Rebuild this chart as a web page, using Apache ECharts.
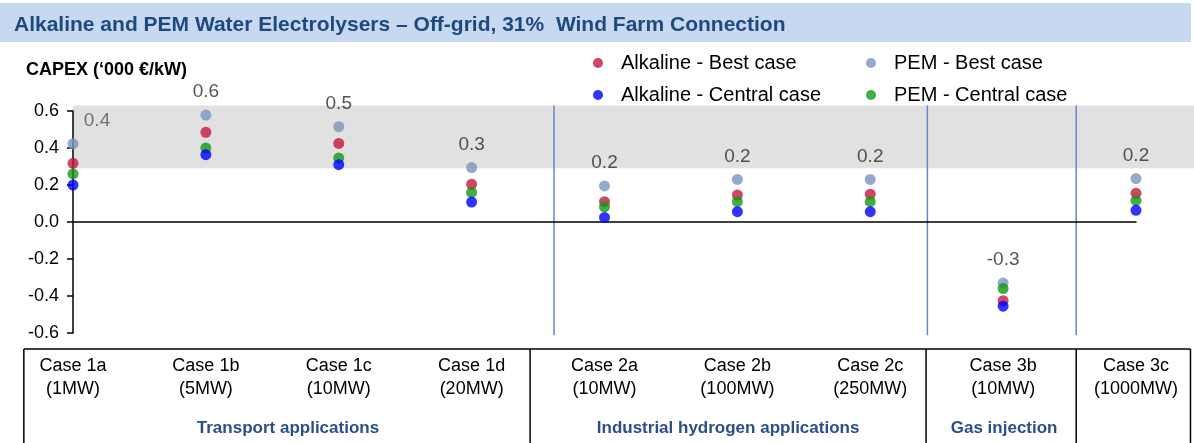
<!DOCTYPE html>
<html>
<head>
<meta charset="utf-8">
<script src="https://cdn.jsdelivr.net/npm/echarts@6/dist/echarts.min.js"></script>
<style>
  html, body { margin: 0; padding: 0; background: #fff; }
  #main { width: 1194px; height: 443px; }
</style>
</head>
<body>
<div id="main"></div>
<script>
// categories and sizes
const caseNames = ['Case 1a', 'Case 1b', 'Case 1c', 'Case 1d', 'Case 2a', 'Case 2b', 'Case 2c', 'Case 3b', 'Case 3c']
const caseSizes = ['(1MW)', '(5MW)', '(10MW)', '(20MW)', '(10MW)', '(100MW)', '(250MW)', '(10MW)', '(1000MW)']

// CAPEX ('000 €/kW)
const alkalineBest = [0.317, 0.485, 0.425, 0.204, 0.11, 0.146, 0.15, -0.425, 0.155]
const alkalineCentral = [0.2, 0.364, 0.31, 0.108, 0.025, 0.056, 0.056, -0.455, 0.063]
const pemBest = [0.423, 0.578, 0.515, 0.294, 0.195, 0.23, 0.23, -0.33, 0.235]
const pemCentral = [0.26, 0.4, 0.346, 0.16, 0.082, 0.11, 0.11, -0.36, 0.115]

// application groups (first and last case index)
const groupNames = ['Transport applications', 'Industrial hydrogen applications', 'Gas injection', '']
const groupFirst = [0, 4, 7, 8]
const groupLast = [3, 6, 7, 8]

// shaded band on the value axis
const bandRange = [0.29, 0.63]

const yTicks = [-0.6, 0.6, 0.2] // min, max, step

const categories = caseNames.map((n, i) => n + '\n' + caseSizes[i])

const colors = {
	alkBest: '#c5173f',
	alkCentral: '#0000ff',
	pemBest: '#7b95bd',
	pemCentral: '#129a12',
}

const font = 'Liberation Sans, Arial, sans-serif'

const chart = echarts.init(document.getElementById('main'))

const legendText = {
	fontSize: 20,
	color: '#000',
	fontFamily: font,
	rich: { t: { fontSize: 20, padding: [0, 0, 0, 13], fontFamily: font } },
}

const option = {
	animation: false,
	backgroundColor: '#fff',
	title: [
		{
			text: 'Alkaline and PEM Water Electrolysers – Off-grid, 31%  Wind Farm Connection',
			left: 9,
			top: 10,
			textStyle: { fontSize: 21, fontWeight: 'bold', color: '#1f497d', fontFamily: font },
		},
		{
			text: 'CAPEX (‘000 €/kW)',
			left: 21,
			top: 56,
			textStyle: { fontSize: 18, fontWeight: 'bold', color: '#000', fontFamily: font },
		},
	],
	legend: [
		{
			data: ['Alkaline - Best case', 'Alkaline - Central case'],
			orient: 'vertical',
			left: 588,
			top: 48,
			icon: 'circle',
			itemWidth: 10,
			itemHeight: 10,
			itemGap: 12,
			formatter: name => '{t|' + name + '}',
			textStyle: legendText,
		},
		{
			data: ['PEM - Best case', 'PEM - Central case'],
			orient: 'vertical',
			left: 861,
			top: 48,
			icon: 'circle',
			itemWidth: 10,
			itemHeight: 10,
			itemGap: 12,
			formatter: name => '{t|' + name + '}',
			textStyle: legendText,
		},
	],
	grid: { left: 73, right: 58, top: 111, bottom: 110 },
	xAxis: [
		{
			type: 'category',
			data: categories,
			boundaryGap: false,
			axisLine: { onZero: true, lineStyle: { color: '#000', width: 1.5 } },
			axisTick: { show: false },
			axisLabel: { show: false },
			splitLine: { show: false },
		},
		{
			type: 'category',
			data: categories,
			boundaryGap: false,
			position: 'bottom',
			axisLine: { show: false, onZero: false },
			axisTick: { show: false },
			axisLabel: {
				fontSize: 18,
				lineHeight: 23,
				color: '#000',
				margin: 22,
				interval: 0,
				fontFamily: font,
			},
			splitLine: { show: false },
		},
	],
	yAxis: {
		type: 'value',
		min: yTicks[0],
		max: yTicks[1],
		interval: yTicks[2],
		axisLine: { show: true, lineStyle: { color: '#000', width: 1.5 } },
		axisTick: { show: true, length: 6, lineStyle: { color: '#000', width: 1.5 } },
		splitLine: { show: false },
		axisLabel: {
			fontSize: 18,
			color: '#000',
			margin: 14,
			fontFamily: font,
			formatter: v => (Math.abs(v) < 1e-9 ? 0 : v).toFixed(1),
		},
	},
	series: [
		{
			name: 'Alkaline - Best case',
			type: 'scatter',
			symbolSize: 11,
			data: alkalineBest,
			itemStyle: { color: colors.alkBest },
		},
		{
			name: 'PEM - Best case',
			type: 'scatter',
			symbolSize: 11,
			data: pemBest.map((v, i) =>
				i === 0 ? { value: v, label: { offset: [24, 0], color: '#555' } } : v
			),
			itemStyle: { color: colors.pemBest },
			label: {
				show: true,
				position: 'top',
				distance: 8,
				fontSize: 19,
				color: '#2b2b2b',
				fontFamily: font,
				formatter: p => p.value.toFixed(1),
			},
		},
		{
			name: 'PEM - Central case',
			type: 'scatter',
			symbolSize: 11,
			data: pemCentral,
			itemStyle: { color: colors.pemCentral },
		},
		{
			name: 'Alkaline - Central case',
			type: 'scatter',
			symbolSize: 11,
			data: alkalineCentral,
			itemStyle: { color: colors.alkCentral },
		},
	],
}

chart.setOption(option)

// pixel x for a (possibly fractional) category position
const xAt = f => {
	const a = chart.convertToPixel({ xAxisIndex: 0, yAxisIndex: 0 }, [0, 0])[0]
	const b = chart.convertToPixel({ xAxisIndex: 0, yAxisIndex: 0 }, [1, 0])[0]
	return a + (b - a) * f
}
const yAt = v => chart.convertToPixel({ xAxisIndex: 0, yAxisIndex: 0 }, [0, v])[1]

const W = chart.getWidth()
const H = chart.getHeight()
const graphics = []

// title bar
graphics.push({ type: 'rect', z: -20, shape: { x: 0, y: 3, width: W - 3, height: 39 }, style: { fill: '#c6d9f1' } })

// grey band
graphics.push({
	type: 'rect',
	z: -10,
	shape: { x: xAt(0), y: yAt(bandRange[1]), width: W - xAt(0), height: yAt(bandRange[0]) - yAt(bandRange[1]) },
	style: { fill: '#e1e1e1' },
})

// blue separators between groups
;[3.62, 6.43, 7.55].forEach(f => {
	graphics.push({
		type: 'line',
		z: -5,
		shape: { x1: xAt(f), y1: yAt(bandRange[1]), x2: xAt(f), y2: yAt(-0.612) },
		style: { stroke: '#5f8bc6', lineWidth: 1.5 },
	})
})

// table under the chart
const tableTop = yAt(yTicks[0]) + 16
const cellEdges = [-0.37, 3.44, 6.42, 7.55, 8.41].map(xAt)
const labelShift = [11, 0, 3, 0]
graphics.push({
	type: 'line',
	shape: { x1: cellEdges[0], y1: tableTop, x2: cellEdges[cellEdges.length - 1], y2: tableTop },
	style: { stroke: '#000', lineWidth: 1.5 },
})
cellEdges.forEach(x => {
	graphics.push({
		type: 'line',
		shape: { x1: x, y1: tableTop, x2: x, y2: H },
		style: { stroke: '#000', lineWidth: 1.5 },
	})
})
groupNames.forEach((name, g) => {
	if (!name) return
	graphics.push({
		type: 'text',
		x: (cellEdges[g] + cellEdges[g + 1]) / 2 + labelShift[g],
		y: tableTop + 79,
		style: {
			text: name,
			fill: '#2a4f8a',
			font: 'bold 17px "Liberation Sans", Arial, sans-serif',
			align: 'center',
			verticalAlign: 'middle',
		},
	})
})

chart.setOption({ graphic: { elements: graphics } })
</script>
</body>
</html>
